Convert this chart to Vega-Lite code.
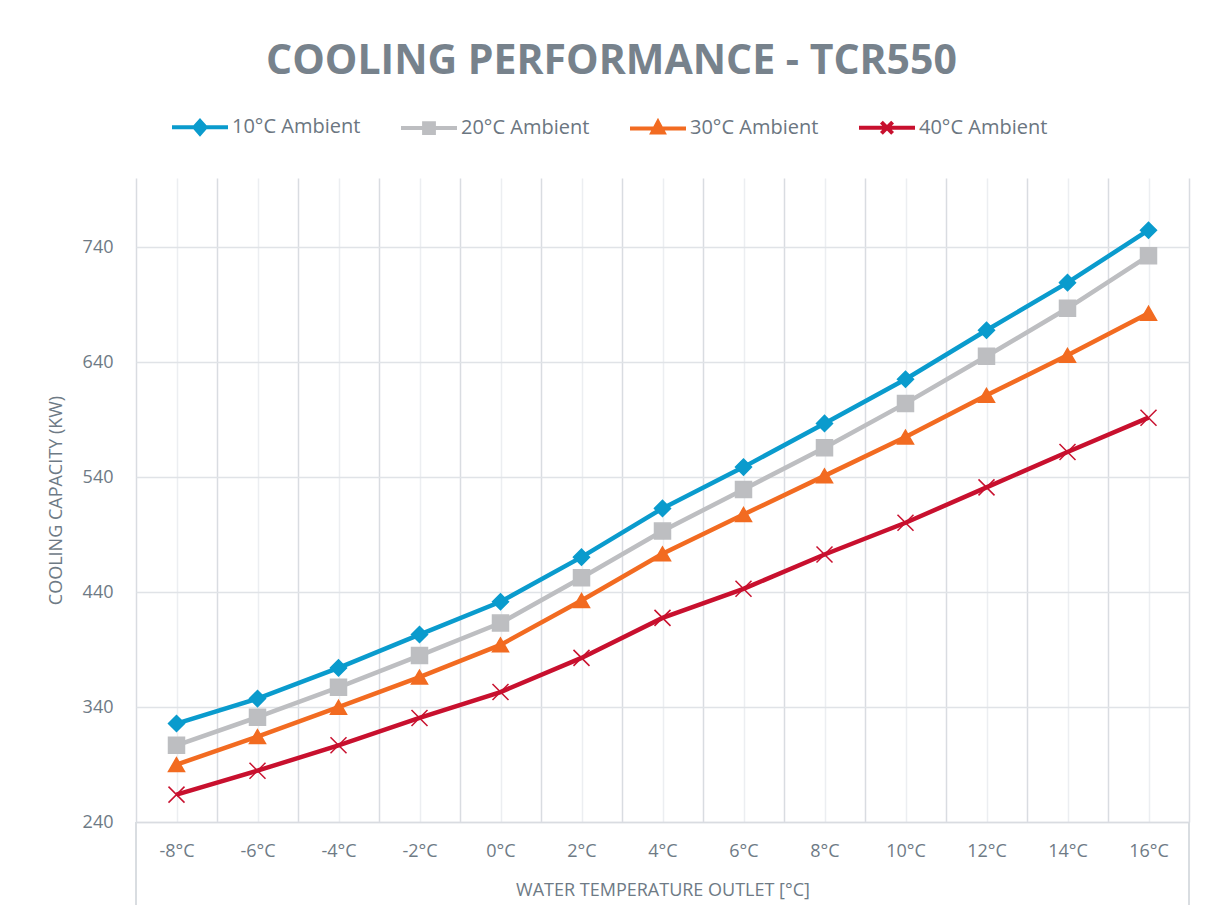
{
  "$schema": "https://vega.github.io/schema/vega-lite/v6.json",
  "width": 1053,
  "height": 644,
  "autosize": "none",
  "padding": {"left": 136, "top": 178, "right": 19, "bottom": 92},
  "background": "white",
  "config": {"view": {"stroke": null}, "font": "Open Sans"},
  "title": {
    "text": "COOLING PERFORMANCE - TCR550",
    "font": "Open Sans",
    "fontSize": 41,
    "fontWeight": "bold",
    "color": "#77828c",
    "anchor": "middle",
    "dx": -51,
    "offset": 34
  },
  "data": {
    "values": [
      {"t": -8, "s": "10°C Ambient", "v": 325.6},
      {"t": -6, "s": "10°C Ambient", "v": 347.3},
      {"t": -4, "s": "10°C Ambient", "v": 374},
      {"t": -2, "s": "10°C Ambient", "v": 403},
      {"t": 0, "s": "10°C Ambient", "v": 431.5},
      {"t": 2, "s": "10°C Ambient", "v": 470.3},
      {"t": 4, "s": "10°C Ambient", "v": 512.7},
      {"t": 6, "s": "10°C Ambient", "v": 548.6},
      {"t": 8, "s": "10°C Ambient", "v": 586.6},
      {"t": 10, "s": "10°C Ambient", "v": 625},
      {"t": 12, "s": "10°C Ambient", "v": 667.6},
      {"t": 14, "s": "10°C Ambient", "v": 709},
      {"t": 16, "s": "10°C Ambient", "v": 754.6},
      {"t": -8, "s": "20°C Ambient", "v": 306.7},
      {"t": -6, "s": "20°C Ambient", "v": 331.1},
      {"t": -4, "s": "20°C Ambient", "v": 357.1},
      {"t": -2, "s": "20°C Ambient", "v": 384.7},
      {"t": 0, "s": "20°C Ambient", "v": 413},
      {"t": 2, "s": "20°C Ambient", "v": 452.4},
      {"t": 4, "s": "20°C Ambient", "v": 493},
      {"t": 6, "s": "20°C Ambient", "v": 529.2},
      {"t": 8, "s": "20°C Ambient", "v": 565.5},
      {"t": 10, "s": "20°C Ambient", "v": 604},
      {"t": 12, "s": "20°C Ambient", "v": 645},
      {"t": 14, "s": "20°C Ambient", "v": 686.7},
      {"t": 16, "s": "20°C Ambient", "v": 732.3},
      {"t": -8, "s": "30°C Ambient", "v": 289.9},
      {"t": -6, "s": "30°C Ambient", "v": 314.2},
      {"t": -4, "s": "30°C Ambient", "v": 339.8},
      {"t": -2, "s": "30°C Ambient", "v": 366},
      {"t": 0, "s": "30°C Ambient", "v": 394},
      {"t": 2, "s": "30°C Ambient", "v": 432.6},
      {"t": 4, "s": "30°C Ambient", "v": 473.2},
      {"t": 6, "s": "30°C Ambient", "v": 507.4},
      {"t": 8, "s": "30°C Ambient", "v": 541},
      {"t": 10, "s": "30°C Ambient", "v": 574.7},
      {"t": 12, "s": "30°C Ambient", "v": 611},
      {"t": 14, "s": "30°C Ambient", "v": 645.8},
      {"t": 16, "s": "30°C Ambient", "v": 682.4},
      {"t": -8, "s": "40°C Ambient", "v": 263.8},
      {"t": -6, "s": "40°C Ambient", "v": 284.6},
      {"t": -4, "s": "40°C Ambient", "v": 306.7},
      {"t": -2, "s": "40°C Ambient", "v": 330.5},
      {"t": 0, "s": "40°C Ambient", "v": 353},
      {"t": 2, "s": "40°C Ambient", "v": 382.7},
      {"t": 4, "s": "40°C Ambient", "v": 417.5},
      {"t": 6, "s": "40°C Ambient", "v": 442.8},
      {"t": 8, "s": "40°C Ambient", "v": 472.6},
      {"t": 10, "s": "40°C Ambient", "v": 500.2},
      {"t": 12, "s": "40°C Ambient", "v": 531},
      {"t": 14, "s": "40°C Ambient", "v": 561.7},
      {"t": 16, "s": "40°C Ambient", "v": 591.6}
    ]
  },
  "encoding": {
    "x": {
      "field": "t",
      "type": "quantitative",
      "scale": {"domain": [-9, 17], "nice": false, "zero": false},
      "axis": {
        "values": [-9, -8, -7, -6, -5, -4, -3, -2, -1, 0, 1, 2, 3, 4, 5, 6, 7, 8, 9, 10, 11, 12, 13, 14, 15, 16, 17],
        "labelExpr": "datum.value % 2 === 0 ? datum.value + '°C' : ''",
        "labelOverlap": false,
        "labelFlush": false,
        "grid": true,
        "gridColor": {"condition": {"test": "datum.value % 2 !== 0", "value": "#d9dce1"}, "value": "#eceef1"},
        "gridWidth": 1.5,
        "ticks": false,
        "domain": true,
        "domainColor": "#d9dce1",
        "domainWidth": 1.5,
        "labelFont": "Open Sans",
        "labelFontSize": 18,
        "labelColor": "#6e7a85",
        "labelPadding": 20,
        "title": "WATER TEMPERATURE OUTLET [°C]",
        "titleFont": "Open Sans",
        "titleFontSize": 18,
        "titleFontWeight": "normal",
        "titleColor": "#6e7a85",
        "titlePadding": 21
      }
    },
    "y": {
      "field": "v",
      "type": "quantitative",
      "scale": {"domain": [240, 800], "nice": false, "zero": false},
      "axis": {
        "values": [240, 340, 440, 540, 640, 740],
        "grid": true,
        "gridColor": "#e0e3e7",
        "gridWidth": 1.5,
        "ticks": false,
        "domain": false,
        "labelFont": "Open Sans",
        "labelFontSize": 18,
        "labelColor": "#6e7a85",
        "labelPadding": 23,
        "title": "COOLING CAPACITY (KW)",
        "titleFont": "Open Sans",
        "titleFontSize": 18,
        "titleFontWeight": "normal",
        "titleColor": "#6e7a85",
        "titlePadding": 17
      }
    }
  },
  "layer": [
    {
      "mark": {"type": "rule", "color": "#d9dce1", "strokeWidth": 1.5, "clip": false},
      "encoding": {"x": {"datum": -9}, "y": {"datum": 240}, "y2": {"datum": 168}}
    },
    {
      "mark": {"type": "rule", "color": "#d9dce1", "strokeWidth": 1.5, "clip": false},
      "encoding": {"x": {"datum": 17}, "y": {"datum": 240}, "y2": {"datum": 168}}
    },
    {
      "mark": {"type": "line", "strokeWidth": 4.5},
      "encoding": {
        "color": {
          "field": "s",
          "type": "nominal",
          "scale": {"range": ["#0a9bcd", "#bdbec1", "#f26b21", "#c8102e"]},
          "legend": {
            "orient": "none",
            "legendX": 54,
            "legendY": -61,
            "direction": "horizontal",
            "columns": 4,
            "title": null,
            "symbolSize": 196,
            "symbolStrokeWidth": 4,
            "labelOffset": 22,
            "columnPadding": 32,
            "labelFont": "Open Sans",
            "labelFontSize": 20,
            "labelColor": "#6b7681",
            "encode": {
              "symbols": {
                "update": {
                  "shape": {"signal": "datum.value === '10°C Ambient' ? 'M-4,0H4M0,-0.9L0.8,0L0,0.9L-0.8,0Z' : datum.value === '20°C Ambient' ? 'M-4,0H4M-0.7,-0.7H0.7V0.7H-0.7Z' : datum.value === '30°C Ambient' ? 'M-4,0H4M0,-0.9L0.8,0.6L-0.8,0.6Z' : 'M-4,0H4M-0.8,-0.8L0.8,0.8M0.8,-0.8L-0.8,0.8'"},
                  "fill": {"scale": "color", "field": "value"},
                  "stroke": {"scale": "color", "field": "value"},
                  "opacity": {"value": 1},
                  "strokeWidth": {"value": 4}
                }
              }
            }
          }
        }
      }
    },
    {
      "mark": {"type": "point", "filled": true, "size": 256, "opacity": 1, "strokeWidth": 1.5},
      "encoding": {
        "color": {"field": "s", "type": "nominal"},
        "shape": {
          "field": "s",
          "type": "nominal",
          "scale": {"range": ["diamond", "square", "triangle-up", "M-1,-1L1,1M1,-1L-1,1"]}
        },
        "stroke": {
          "field": "s",
          "type": "nominal",
          "scale": {"range": ["#0a9bcd", "#bdbec1", "#f26b21", "#c8102e"]},
          "legend": null
        }
      }
    }
  ]
}
